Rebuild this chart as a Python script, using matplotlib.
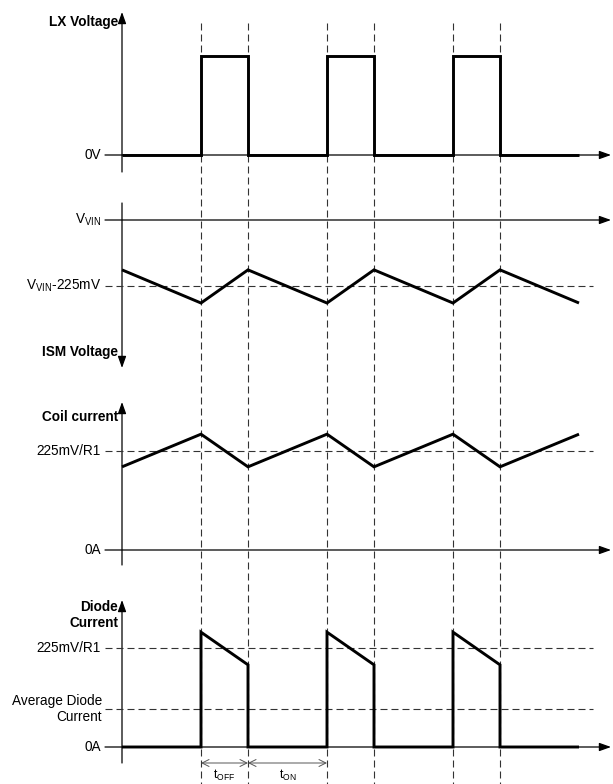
import matplotlib.pyplot as plt

plt.rcParams['font.family'] = ['Liberation Sans', 'DejaVu Sans']
plt.rcParams['mathtext.fontset'] = 'custom'
plt.rcParams['mathtext.rm'] = 'Liberation Sans'
plt.rcParams['mathtext.it'] = 'Liberation Sans:italic'
plt.rcParams['mathtext.bf'] = 'Liberation Sans:bold'

# time in switching periods, t = 0 at the vertical axes
ripple_t = [0.0, 0.627, 1.0, 1.627, 2.0, 2.627, 3.0, 3.627]
lx_rise = [0.627, 1.627, 2.627]
lx_fall = [1.0, 2.0, 3.0]
t_end = 3.627

lx_high = 1.0
ism_mv = [-170, -283, -170, -283, -170, -283, -170, -283]   # relative to VVIN
ism_ref = -225
coil_i = [0.84, 1.17, 0.84, 1.17, 0.84, 1.17, 0.84, 1.17]   # in units of 225mV/R1
i_ref = 1.0
diode_peak = 1.16
diode_end = 0.83
diode_avg = 0.38

W, H = 613, 784
X0, PX = 122, 126          # pixel of t=0, pixels per period


def tx(px):
    return (px - X0) / PX


XLIM = (tx(0), tx(W))
FS = 9.8
THICK = dict(color='k', lw=2.1, solid_joinstyle='miter', solid_capstyle='butt')
DASH = dict(color='#333333', lw=0.8, dashes=(6.3, 3.6))
AX_ARROW = dict(arrowstyle='-|>,head_length=0.7,head_width=0.25', lw=0.9,
                color='k', shrinkA=0, shrinkB=0)

fig = plt.figure(figsize=(W / 100, H / 100), dpi=100)

ov = fig.add_axes([0, 0, 1, 1])
ov.set_xlim(*XLIM)
ov.set_ylim(H, 0)
ov.axis('off')


def panel(top, bottom, lev_a, px_a, lev_b, px_b):
    ax = fig.add_axes([0, 1 - bottom / H, 1, (bottom - top) / H])
    s = (px_a - px_b) / (lev_b - lev_a)
    ax.set_ylim(lev_a - (bottom - px_a) / s, lev_a + (px_a - top) / s)
    ax.set_xlim(*XLIM)
    ax.axis('off')
    ax.patch.set_alpha(0)
    return ax


def harrow(ax, y):
    ax.annotate('', xy=(tx(611), y), xytext=(tx(105), y), arrowprops=AX_ARROW)


def vaxis(y_from, y_to):
    ov.annotate('', xy=(0, y_to), xytext=(0, y_from), arrowprops=AX_ARROW)


def ref_line(ax, y):
    ax.plot([tx(105), tx(593)], [y, y], **DASH)


# vertical dashed timing lines
for t in lx_rise + lx_fall:
    ov.plot([t, t], [23, H], **DASH)

# --- LX voltage
p1 = panel(0, 185, 0, 155, 1, 56)
xs, ys = [0], [0]
for r, f in zip(lx_rise, lx_fall):
    xs += [r, r, f, f]
    ys += [0, lx_high, lx_high, 0]
xs.append(t_end)
ys.append(0)
p1.plot(xs, ys, **THICK)
harrow(p1, 0)
vaxis(172, 12)
p1.text(tx(101), 0, '0V', ha='right', va='center', fontsize=FS)
ov.text(tx(118), 22, 'LX Voltage', ha='right', va='center', fontsize=FS,
        fontweight='bold')

# --- ISM voltage
p2 = panel(185, 380, 0, 220, -225, 286)
ref_line(p2, ism_ref)
p2.plot(ripple_t, ism_mv, **THICK)
harrow(p2, 0)
vaxis(203, 368)
p2.text(tx(101), 0, r'V$_{\mathrm{VIN}}$', ha='right', va='center', fontsize=FS)
p2.text(tx(101), ism_ref, r'V$_{\mathrm{VIN}}$-225mV', ha='right', va='center',
        fontsize=FS)
ov.text(tx(118), 352, 'ISM Voltage', ha='right', va='center', fontsize=FS,
        fontweight='bold')

# --- coil current
p3 = panel(380, 580, 0, 550, 1, 451)
ref_line(p3, i_ref)
p3.plot(ripple_t, coil_i, **THICK)
harrow(p3, 0)
vaxis(565, 402)
p3.text(tx(101), i_ref, '225mV/R1', ha='right', va='center', fontsize=FS)
p3.text(tx(101), 0, '0A', ha='right', va='center', fontsize=FS)
ov.text(tx(118), 417, 'Coil current', ha='right', va='center', fontsize=FS,
        fontweight='bold')

# --- diode current
p4 = panel(580, 784, 0, 747, 1, 648)
ref_line(p4, i_ref)
ref_line(p4, diode_avg)
xs, ys = [0], [0]
for r, f in zip(lx_rise, lx_fall):
    xs += [r, r, f, f]
    ys += [0, diode_peak, diode_end, 0]
xs.append(t_end)
ys.append(0)
p4.plot(xs, ys, **THICK)
harrow(p4, 0)
vaxis(763, 600)
p4.text(tx(101), i_ref, '225mV/R1', ha='right', va='center', fontsize=FS)
p4.text(tx(102), diode_avg, 'Average Diode\nCurrent', ha='right', va='center',
        fontsize=FS, linespacing=1.2)
p4.text(tx(101), 0, '0A', ha='right', va='center', fontsize=FS)
ov.text(tx(118), 615, 'Diode\nCurrent', ha='right', va='center', fontsize=FS,
        fontweight='bold', linespacing=1.15)

# t_off / t_on markers
t_arrow = dict(arrowstyle='<->,head_length=0.5,head_width=0.25', lw=0.7,
               color='#555555', shrinkA=0, shrinkB=0)
ov.annotate('', xy=(lx_fall[0], 763), xytext=(lx_rise[0], 763), arrowprops=t_arrow)
ov.annotate('', xy=(lx_rise[1], 763), xytext=(lx_fall[0], 763), arrowprops=t_arrow)
ov.text((lx_rise[0] + lx_fall[0]) / 2, 783, r't$_{\mathrm{OFF}}$', ha='center',
        va='bottom', fontsize=FS - 1)
ov.text((lx_fall[0] + lx_rise[1]) / 2, 783, r't$_{\mathrm{ON}}$', ha='center',
        va='bottom', fontsize=FS - 1)

fig.savefig('out.png', dpi=100)
